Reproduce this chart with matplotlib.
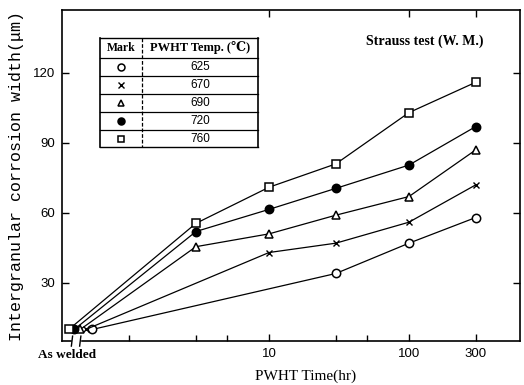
import matplotlib
matplotlib.use("Agg")
import matplotlib.pyplot as plt
from matplotlib import font_manager as fm
from matplotlib.lines import Line2D
import matplotlib.transforms as mtransforms

names = {f.name for f in fm.fontManager.ttflist}
narrow = "Liberation Sans Narrow" if "Liberation Sans Narrow" in names else "Liberation Sans"
mono = "Liberation Mono"
serif = "Liberation Serif"

# ---- data ----
temps = ["625", "670", "690", "720", "760"]
markers = ["o", "x", "^", "o", "s"]
fills = ["white", "none", "white", "black", "white"]
aw_value = [10, 10, 10, 10, 10]
aw_x = [0.545, 0.49, 0.447, 0.405, 0.37]
times = {
    "625": [30, 100, 300],
    "670": [10, 30, 100, 300],
    "690": [3, 10, 30, 100, 300],
    "720": [3, 10, 30, 100, 300],
    "760": [3, 10, 30, 100, 300],
}
widths = {
    "625": [34, 47, 58],
    "670": [43, 47, 56, 72],
    "690": [45.5, 51, 59, 67, 87],
    "720": [52, 61.5, 70.5, 80.5, 97],
    "760": [55.5, 71, 81, 103, 116],
}
xticks = [10, 100, 300]
xminor = [1, 3, 5, 30, 50]
yticks = [30, 60, 90, 120]

fig = plt.figure(figsize=(5.24, 3.85), dpi=100)
ax = fig.add_axes([0.118, 0.114, 0.874, 0.86])
ax.set_xscale("log")
ax.set_xlim(0.33, 620)
ax.set_ylim(5, 147)

for i in range(5):
    t = temps[i]
    xs = [aw_x[i]] + times[t]
    ys = [aw_value[i]] + widths[t]
    if markers[i] == "x":
        ax.plot(xs, ys, color="black", lw=0.9, marker="x", ms=5, mew=1.0, zorder=3)
    else:
        ax.plot(xs, ys, color="black", lw=0.9, marker=markers[i], ms=6,
                mfc=fills[i], mec="black", mew=1.1, zorder=3)

ax.set_xticks(xticks)
ax.set_xticklabels([str(v) for v in xticks])
ax.set_xticks(xminor, minor=True)
ax.xaxis.set_minor_formatter(plt.NullFormatter())
ax.set_yticks(yticks)
ax.set_yticklabels([str(v) for v in yticks])
ax.tick_params(direction="in", length=5, width=1.0, top=True, right=True,
               labelsize=9.5, pad=5)
ax.tick_params(which="minor", direction="in", length=4, width=1.0, top=False, right=False)
for lab in ax.get_xticklabels() + ax.get_yticklabels():
    lab.set_family(narrow)
for s in ax.spines.values():
    s.set_linewidth(1.2)

ax.set_xlabel("PWHT Time(hr)", family=serif, fontsize=11)
ax.xaxis.set_label_coords(0.533, -0.085)
ax.set_ylabel("Intergranular corrosion width(\u03bcm)", family=mono, fontsize=12, labelpad=6)

# As welded label and axis break
trans = mtransforms.blended_transform_factory(ax.transData, ax.transAxes)
ax.text(0.36, -0.025, "As welded", transform=trans, ha="center", va="top",
        family=serif, fontweight="bold", fontsize=9.5)
ax.add_patch(plt.Rectangle((0.39, -0.01), 0.057, 0.02, transform=trans,
                           color="white", clip_on=False, zorder=5))
for bx in [0.39, 0.447]:
    ax.add_line(Line2D([bx * 0.99, bx * 1.01], [-0.015, 0.015], transform=trans,
                       color="black", lw=1.0, clip_on=False, zorder=6))

ax.text(0.92, 0.905, "Strauss test (W. M.)", transform=ax.transAxes, ha="right",
        va="center", family=serif, fontweight="bold", fontsize=10)

# table
tab = fig.add_axes([100 / 524, 1 - 147 / 385, 158 / 524, 109 / 385])
tab.set_xlim(0, 158)
tab.set_ylim(109, 0)
tab.axis("off")
row_h = [0, 20, 38, 56, 74, 92, 109]
for k, yy in enumerate(row_h):
    tab.plot([0, 158], [yy, yy], color="black", lw=1.0 if k in (0, 6) else 0.9,
             clip_on=False)
tab.plot([0, 0], [0, 109], color="black", lw=1.2, clip_on=False)
tab.plot([158, 158], [0, 109], color="black", lw=1.2, clip_on=False)
tab.plot([42, 42], [0, 109], color="black", lw=0.9, ls=(0, (3, 1.5)), clip_on=False)
tab.text(21, 10, "Mark", ha="center", va="center", family=serif,
         fontweight="bold", fontsize=8.5)
tab.text(100, 10, "PWHT Temp. (\u2103)", ha="center", va="center",
         family=[serif, "DejaVu Serif", "DejaVu Sans", "Noto Sans CJK JP"],
         fontsize=9, fontweight="bold")
for k in range(5):
    yc = (row_h[k + 1] + row_h[k + 2]) / 2
    if markers[k] == "x":
        tab.plot([21], [yc], marker="x", color="black", ms=4, mew=1.0)
    else:
        tab.plot([21], [yc], marker=markers[k], ms=5, mfc=fills[k], mec="black", mew=1.1,
                 color="black")
    tab.text(100, yc, temps[k], ha="center", va="center", family=narrow, fontsize=8.5)

fig.savefig("out.png", dpi=100)
